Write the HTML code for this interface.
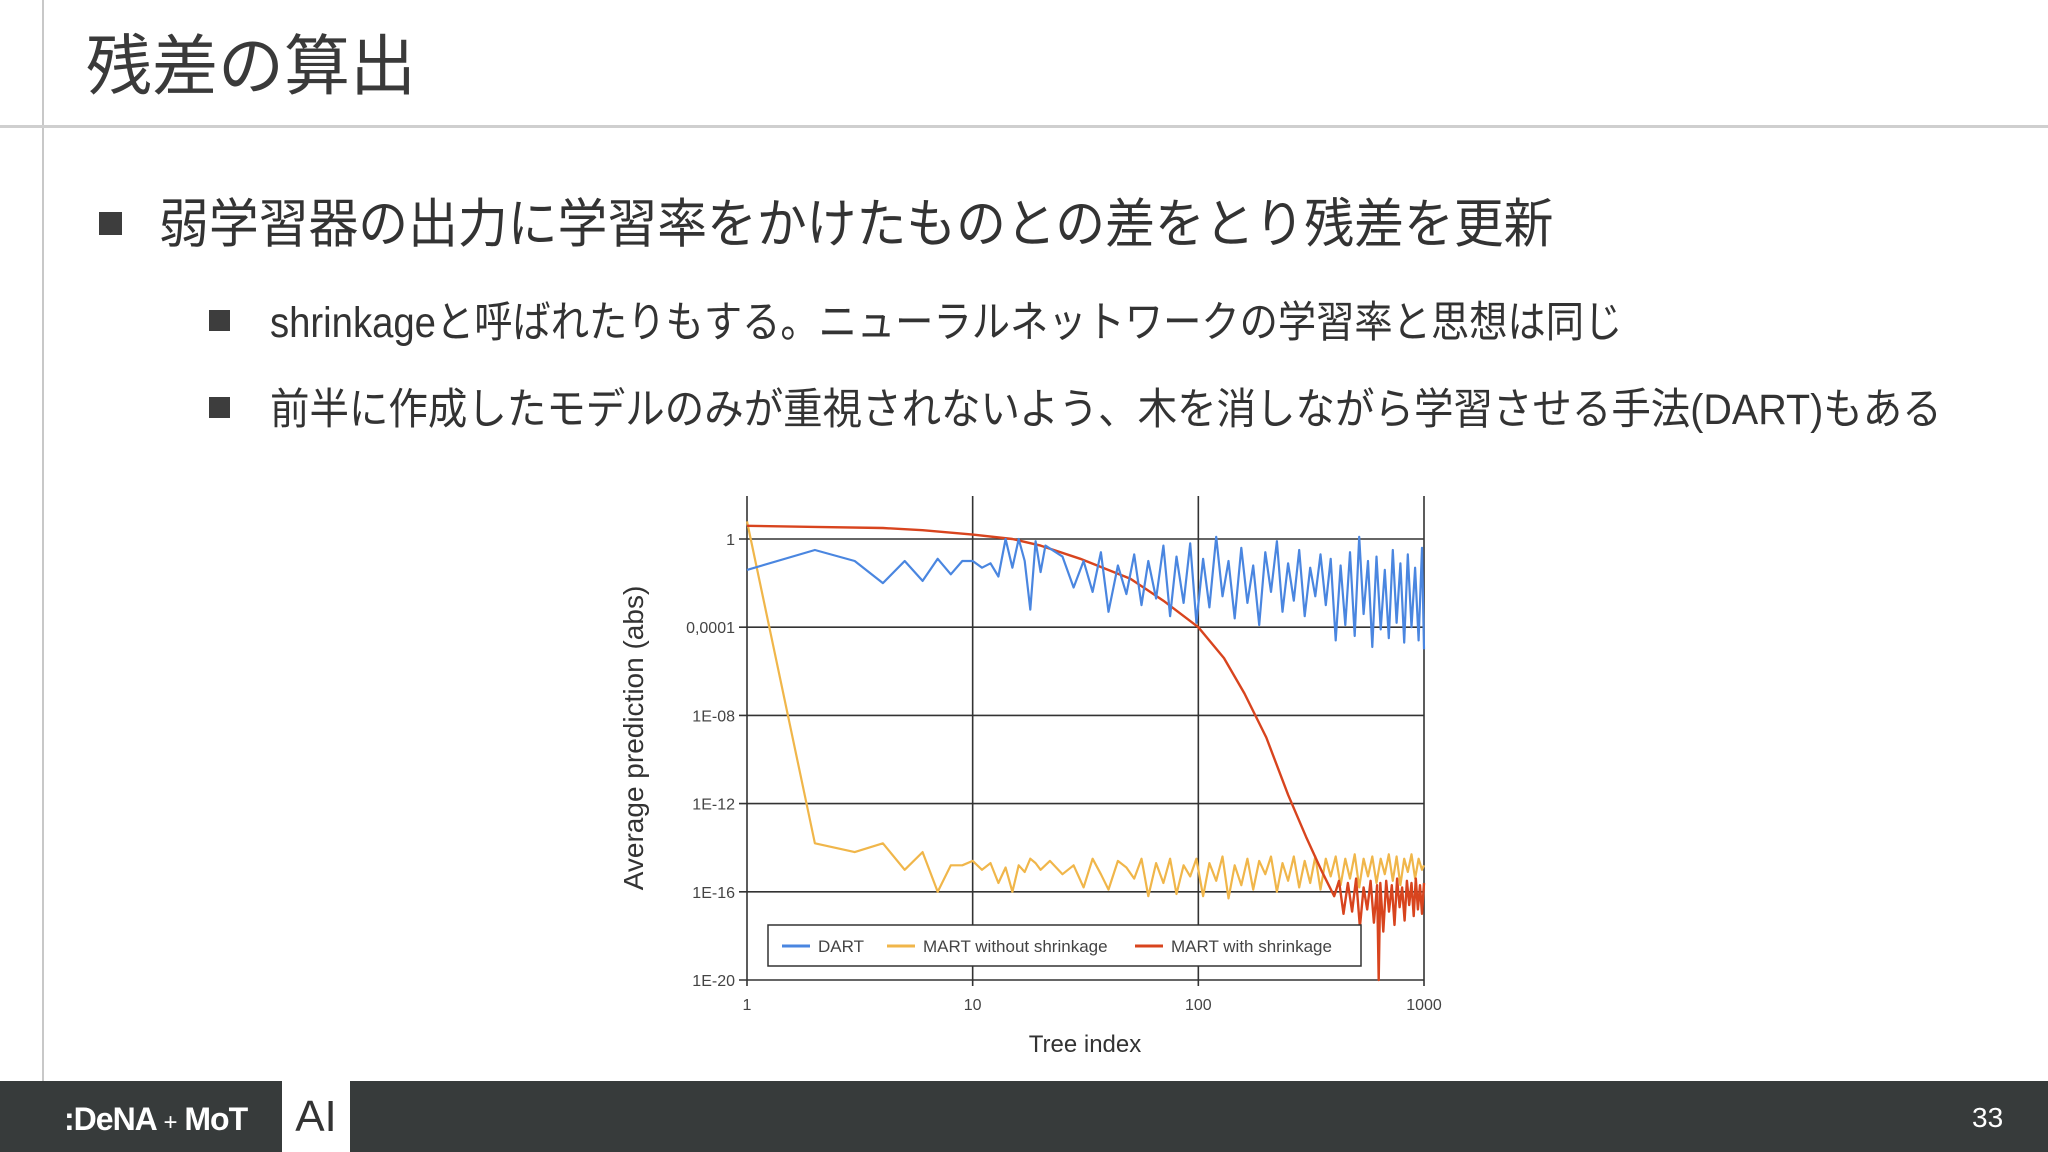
<!DOCTYPE html>
<html><head><meta charset="utf-8"><style>
body{margin:0;width:2048px;height:1152px;position:relative;background:#fff;overflow:hidden;font-family:"Liberation Sans","Noto Sans CJK JP",sans-serif;color:#333}
.abs{position:absolute}
.t{white-space:nowrap;transform-origin:0 50%;}
</style></head><body>
<div class="abs" style="left:42px;top:0;width:2px;height:1081px;background:#c8c8c8"></div>
<div class="abs" style="left:0;top:125px;width:2048px;height:3px;background:#cfcfcf"></div>
<div class="abs t" style="left:86px;top:26px;font-size:66px;line-height:80px;color:#3a3a3a;transform:scaleX(1.0)">残差の算出</div>

<div class="abs" style="left:99px;top:212px;width:23px;height:23px;background:#3d3d3d"></div>
<div class="abs t" style="left:159px;top:193px;font-size:53px;line-height:64px;transform:scaleX(0.94)">弱学習器の出力に学習率をかけたものとの差をとり残差を更新</div>
<div class="abs" style="left:209px;top:310px;width:21px;height:21px;background:#3d3d3d"></div>
<div class="abs t" style="left:270px;top:297px;font-size:43px;line-height:52px;transform:scaleX(0.89)">shrinkageと呼ばれたりもする。ニューラルネットワークの学習率と思想は同じ</div>
<div class="abs" style="left:209px;top:397px;width:21px;height:21px;background:#3d3d3d"></div>
<div class="abs t" style="left:270px;top:384px;font-size:43px;line-height:52px;transform:scaleX(0.918)">前半に作成したモデルのみが重視されないよう、木を消しながら学習させる手法(DART)もある</div>

<svg class="abs" style="left:0;top:0" width="2048" height="1152" id="chart"></svg>

<div class="abs" style="left:0;top:1081px;width:2048px;height:71px;background:#373b3b"></div>
<div class="abs" style="left:64px;top:1094px;color:#fff;font-size:32px;font-weight:bold;line-height:50px;letter-spacing:-1px">:DeNA <span style="font-weight:normal;font-size:24px">+</span> MoT</div>
<div class="abs" style="left:282px;top:1081px;width:68px;height:71px;background:#fff;color:#333;font-size:44px;line-height:71px;text-align:center">AI</div>
<div class="abs" style="left:1972px;top:1100px;color:#fff;font-size:28px;line-height:36px">33</div>

<script>
const xTicks=[1,10,100,1000];
const yTickExp=[0,-4,-8,-12,-16,-20];
const yTickLabels=["1","0,0001","1E-08","1E-12","1E-16","1E-20"];
const dartX=[1,2,3,4,5,6,7,8,9,10,11,12,13,14,15,16,17,18,19,20,21,25,28,31,34,37,40,44,48,52,56,60,65,70,75,80,86,92,98,105,112,120,128,136,145,155,165,175,186,198,210,223,236,250,265,280,296,313,330,348,367,386,406,427,448,470,493,516,540,565,590,616,643,670,698,727,756,786,817,848,880,913,946,980,1000];
const dartLog=[-1.4,-0.5,-1.0,-2.0,-1.0,-1.9,-0.9,-1.6,-1.0,-1.0,-1.3,-1.1,-1.7,0,-1.3,0,-1.0,-3.2,-0.1,-1.5,-0.3,-0.8,-2.2,-1.0,-2.4,-0.6,-3.3,-1.2,-2.5,-0.7,-3.0,-1.0,-2.7,-0.3,-3.5,-0.8,-2.9,-0.2,-3.8,-0.9,-3.1,0.1,-2.6,-1.0,-3.6,-0.4,-2.9,-1.2,-3.9,-0.6,-2.4,-0.1,-3.3,-1.1,-2.8,-0.5,-3.5,-1.3,-2.6,-0.7,-3.0,-0.9,-4.6,-1.2,-3.9,-0.6,-4.4,0.1,-3.4,-1.0,-4.9,-0.8,-4.1,-1.4,-4.5,-0.5,-3.8,-1.1,-4.7,-0.7,-4.0,-1.3,-4.6,-0.4,-5.0];
const mart0X=[1,2,3,4,5,6,7,8,9,10,11,12,13,14,15,16,17,18,19,20,22,25,28,31,34,37,40,44,48,52,56,60,65,70,75,80,86,92,98,105,112,120,128,136,145,155,165,175,186,198,210,223,236,250,265,280,296,313,330,348,367,386,406,427,448,470,493,516,540,565,590,616,643,670,698,727,756,786,817,848,880,913,946,980,1000];
const mart0Log=[0.8,-13.8,-14.2,-13.8,-15.0,-14.2,-16.0,-14.8,-14.8,-14.6,-15.0,-14.7,-15.6,-14.9,-16.0,-14.8,-15.1,-14.5,-14.7,-15.0,-14.6,-15.2,-14.8,-15.8,-14.5,-15.2,-15.9,-14.6,-14.9,-15.4,-14.5,-16.2,-14.7,-15.6,-14.5,-16.1,-14.8,-15.3,-14.5,-16.2,-14.7,-15.5,-14.4,-16.3,-14.8,-15.7,-14.5,-15.9,-14.6,-15.2,-14.4,-16.0,-14.7,-15.5,-14.4,-15.8,-14.6,-15.6,-14.4,-15.9,-14.5,-15.3,-14.4,-15.7,-14.5,-15.4,-14.3,-15.8,-14.5,-15.3,-14.4,-15.6,-14.5,-15.2,-14.3,-15.5,-14.4,-15.7,-14.5,-15.1,-14.3,-15.4,-14.5,-15.0,-14.8];
const mart1X=[1,2,4,6,10,15,20,30,50,70,100,130,160,200,250,300,350,400,420,440,460,480,500,520,540,560,580,600,620,630,640,660,680,700,720,740,760,780,800,820,840,860,880,900,920,940,960,980,1000];
const mart1Log=[0.6,0.55,0.5,0.4,0.2,0,-0.3,-0.9,-1.8,-2.8,-4.0,-5.4,-7.0,-9.0,-11.6,-13.5,-15.0,-16.2,-15.5,-17.0,-15.6,-16.9,-15.4,-17.6,-15.8,-16.8,-15.5,-17.4,-15.7,-20.0,-15.6,-17.8,-15.5,-16.9,-15.7,-17.5,-15.4,-16.7,-15.8,-17.3,-15.5,-16.6,-15.6,-17.1,-15.4,-16.8,-15.7,-17.0,-15.6];

const L=747,R=1424,Y0=539,Y20=980,TOP=496;
const svg=document.getElementById('chart');
const NS='http://www.w3.org/2000/svg';
function xS(v){return L+Math.log10(v)/3*(R-L);}
function yS(e){return Y0+(-e)/20*(Y20-Y0);}
function mk(tag,attrs){const el=document.createElementNS(NS,tag);for(const k in attrs)el.setAttribute(k,attrs[k]);svg.appendChild(el);return el;}

yTickExp.forEach((e,i)=>{
  const g=mk('line',{x1:L-8,x2:R,y1:yS(e),y2:yS(e),stroke:'#333','stroke-width':1.6});
  
  
  const t=mk('text',{x:L-12,y:yS(e)+6,'text-anchor':'end','font-size':16,fill:'#444','font-family':'Liberation Sans, sans-serif'});
  t.textContent=yTickLabels[i];
  
  
});
xTicks.forEach(v=>{
  const g=mk('line',{x1:xS(v),x2:xS(v),y1:TOP,y2:Y20+6,stroke:'#333','stroke-width':1.6});
  
  
  const t=mk('text',{x:xS(v),y:Y20+30,'text-anchor':'middle','font-size':16,fill:'#444','font-family':'Liberation Sans, sans-serif'});
  t.textContent=String(v);
  
  
});
function series(xs,ys,color,name,w){
  const d=xs.map((x,i)=>(i?'L':'M')+xS(x).toFixed(1)+','+yS(ys[i]).toFixed(1)).join('');
  const p=mk('path',{d:d,fill:'none',stroke:color,'stroke-width':w,'stroke-linejoin':'round'});
  
  
}
series(mart0X,mart0Log,'#f0b64a','line-mart-without-shrinkage',2.2);
series(mart1X,mart1Log,'#d8441e','line-mart-with-shrinkage',2.4);
series(dartX,dartLog,'#4a86e0','line-dart',2.2);

const lb=mk('rect',{x:768,y:925,width:593,height:41,fill:'#fff',stroke:'#333','stroke-width':1.5});


const legNames=['DART','MART without shrinkage','MART with shrinkage'];
const legColors=['#4a86e0','#f0b64a','#d8441e'];
const legX=[782,887,1135];
legNames.forEach((n,i)=>{
  const l=mk('line',{x1:legX[i],x2:legX[i]+28,y1:946,y2:946,stroke:legColors[i],'stroke-width':3});
  
  
  const t=mk('text',{x:legX[i]+36,y:952,'font-size':17,fill:'#444','font-family':'Liberation Sans, sans-serif'});
  t.textContent=n;
  
  
});
const yt=mk('text',{x:0,y:0,'text-anchor':'middle','font-size':28,fill:'#333','font-family':'Liberation Sans, sans-serif',transform:'translate(643,738) rotate(-90)'});
yt.textContent='Average prediction (abs)';


const xt=mk('text',{x:1085,y:1052,'text-anchor':'middle','font-size':24,fill:'#333','font-family':'Liberation Sans, sans-serif'});
xt.textContent='Tree index';


</script>
</body></html>
